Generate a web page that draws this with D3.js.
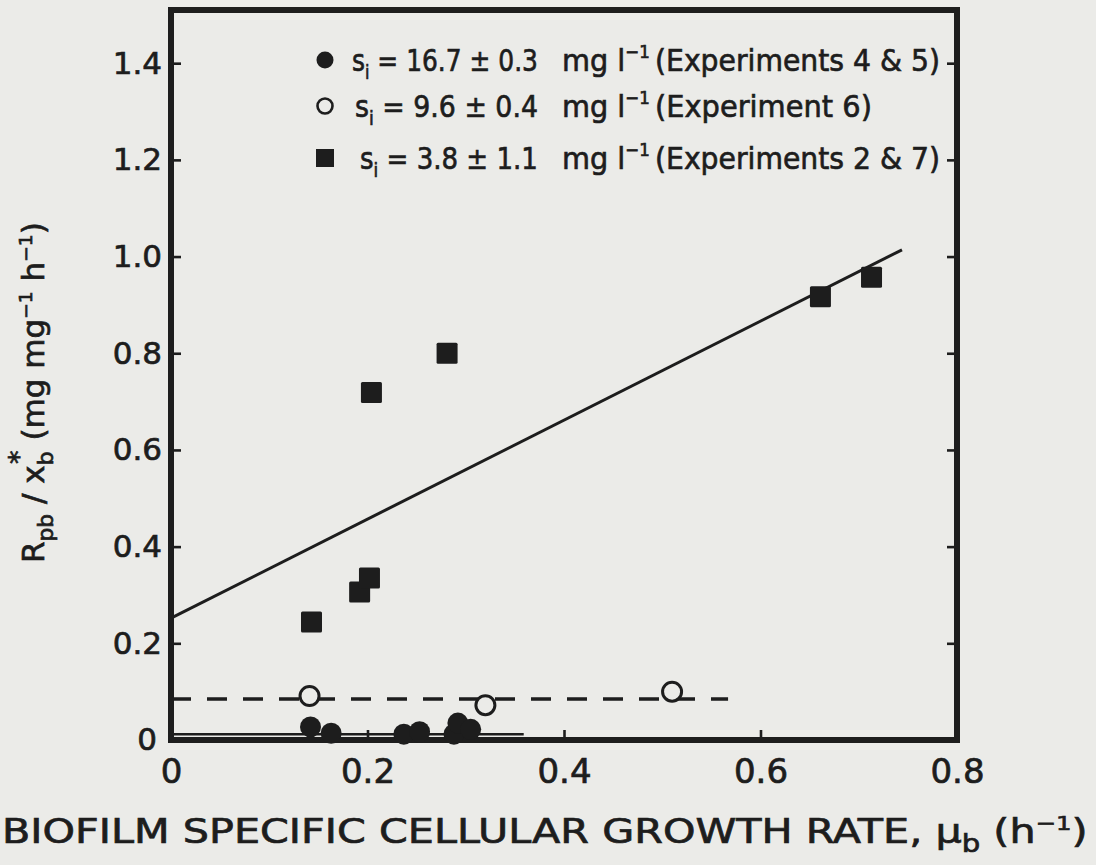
<!DOCTYPE html>
<html>
<head>
<meta charset="utf-8">
<script src="https://cdnjs.cloudflare.com/ajax/libs/d3/7.8.5/d3.min.js"></script>
<style>
    html, body { margin: 0; padding: 0; background: #ebebe8; }
    svg { display: block; }
    text {
        font-family: "DejaVu Sans", sans-serif;
        fill: #1d1d1d;
        stroke: #1d1d1d;
        stroke-width: 0.7px;
    }
</style>
</head>
<body>
<div id="chart"></div>
<script>
/* -------------------------------------------------------
   DATOS
------------------------------------------------------- */

const xTicks = [0, 0.2, 0.4, 0.6, 0.8];
const xTickLabels = ["0", "0.2", "0.4", "0.6", "0.8"];
const yTicks = [0, 0.2, 0.4, 0.6, 0.8, 1.0, 1.2, 1.4];
const yTickLabels = ["0", "0.2", "0.4", "0.6", "0.8", "1.0", "1.2", "1.4"];

// s_i = 16.7 (Experiments 4 & 5) - filled circles
const highMu = [0.142, 0.163, 0.237, 0.253, 0.288, 0.292, 0.305];
const highR  = [0.027, 0.014, 0.012, 0.017, 0.012, 0.035, 0.022];

// s_i = 9.6 (Experiment 6) - open circles
const midMu = [0.141, 0.320, 0.510];
const midR  = [0.091, 0.072, 0.100];

// s_i = 3.8 (Experiments 2 & 7) - filled squares
const lowMu = [0.143, 0.192, 0.202, 0.204, 0.281, 0.661, 0.713];
const lowR  = [0.244, 0.306, 0.335, 0.719, 0.800, 0.917, 0.957];

// fitted lines: [mu, R] end points
const fitLow  = [[0, 0.252], [0.744, 1.014]];
const fitMid  = [[0, 0.085], [0.567, 0.085]];
const fitHigh = [[0, 0.012], [0.359, 0.012]];

const legendConc = ["16.7", "9.6", "3.8"];
const legendErr  = ["0.3", "0.4", "1.1"];
const legendExp  = ["(Experiments 4 & 5)", "(Experiment 6)", "(Experiments 2 & 7)"];
const legendSym  = ["filled", "open", "square"];

/* -------------------------------------------------------
   LIENZO
------------------------------------------------------- */

const W = 1096, H = 865;
const ink = "#1d1d1d";
const paper = "#ebebe8";
const plot = { left: 171, right: 957, top: 10, bottom: 740 };

const svg = d3.select("#chart")
    .append("svg")
    .attr("width", W)
    .attr("height", H)
    .style("background", paper);

const x = d3.scaleLinear().domain([0, 0.8]).range([plot.left, plot.right]);
const y = d3.scaleLinear().domain([0, 1.51]).range([plot.bottom, plot.top]);

// encoge un texto en horizontal hasta el ancho dado (en su propio eje x)
function fitText(sel, tx, ty, width, rotate) {
    const w = sel.node().getBBox().width;
    const k = Math.min(1.3, width / w);
    sel.attr("transform", `translate(${tx},${ty})${rotate ? " rotate(" + rotate + ")" : ""} scale(${k},1)`);
}

/* --------------------------
   EJES
--------------------------- */
const axLeft = svg.append("g")
    .attr("transform", `translate(${plot.left},0)`)
    .call(d3.axisLeft(y).tickValues(yTicks).tickSize(-10).tickSizeOuter(0).tickPadding(9)
        .tickFormat((d, i) => yTickLabels[i]));

const axBottom = svg.append("g")
    .attr("transform", `translate(0,${plot.bottom})`)
    .call(d3.axisBottom(x).tickValues(xTicks).tickSize(-10).tickSizeOuter(0).tickPadding(19)
        .tickFormat((d, i) => xTickLabels[i]));

const axRight = svg.append("g")
    .attr("transform", `translate(${plot.right},0)`)
    .call(d3.axisRight(y).tickValues(yTicks.slice(1)).tickSize(-10).tickSizeOuter(0).tickFormat(""));

[axLeft, axBottom, axRight].forEach(a => {
    a.style("color", ink);
    a.select(".domain").remove();
    a.selectAll(".tick line").attr("stroke-width", 2.6);
    a.selectAll("text").attr("font-family", "DejaVu Sans, sans-serif").attr("fill", ink);
});
axLeft.selectAll("text").attr("font-size", 31);
axBottom.selectAll("text").attr("font-size", 34);
axBottom.selectAll(".tick").filter(d => d === 0 || d === 0.8).select("line").remove();
axLeft.selectAll(".tick").filter(d => d === 0).select("line").remove();
axLeft.selectAll(".tick").filter(d => d === 0).select("text").attr("x", -14);

// marco
svg.append("rect")
    .attr("x", plot.left)
    .attr("y", plot.top)
    .attr("width", plot.right - plot.left)
    .attr("height", plot.bottom - plot.top)
    .attr("fill", "none")
    .attr("stroke", ink)
    .attr("stroke-width", 6);

/* --------------------------
   LÍNEAS AJUSTADAS
--------------------------- */
const line = d3.line().x(d => x(d[0])).y(d => y(d[1]));

svg.append("path").datum(fitLow)
    .attr("d", line).attr("fill", "none").attr("stroke", ink).attr("stroke-width", 3);

svg.append("path").datum(fitMid)
    .attr("d", line).attr("fill", "none").attr("stroke", ink).attr("stroke-width", 3.5)
    .attr("stroke-dasharray", "20 16");

svg.append("path").datum(fitHigh)
    .attr("d", line).attr("fill", "none").attr("stroke", ink).attr("stroke-width", 2.6);

/* --------------------------
   PUNTOS
--------------------------- */
svg.append("g").selectAll("circle")
    .data(highMu.map((m, i) => [m, highR[i]]))
    .enter().append("circle")
    .attr("cx", d => x(d[0])).attr("cy", d => y(d[1]))
    .attr("r", 10.5).attr("fill", ink);

svg.append("g").selectAll("circle")
    .data(midMu.map((m, i) => [m, midR[i]]))
    .enter().append("circle")
    .attr("cx", d => x(d[0])).attr("cy", d => y(d[1]))
    .attr("r", 9.5).attr("fill", paper).attr("stroke", ink).attr("stroke-width", 3);

const sq = 21;
svg.append("g").selectAll("rect")
    .data(lowMu.map((m, i) => [m, lowR[i]]))
    .enter().append("rect")
    .attr("x", d => x(d[0]) - sq / 2).attr("y", d => y(d[1]) - sq / 2)
    .attr("width", sq).attr("height", sq).attr("rx", 1.5)
    .attr("fill", ink);

/* --------------------------
   LEYENDA
--------------------------- */
const legRowY = [60, 106, 158];
const legSX = [352, 355, 360];
const legMid = 325;

legendSym.forEach((s, i) => {
    const cy = legRowY[i];
    if (s === "filled") {
        svg.append("circle").attr("cx", legMid).attr("cy", cy).attr("r", 8.5).attr("fill", ink);
    } else if (s === "open") {
        svg.append("circle").attr("cx", legMid).attr("cy", cy).attr("r", 7.5)
            .attr("fill", "none").attr("stroke", ink).attr("stroke-width", 2.6);
    } else {
        svg.append("rect").attr("x", legMid - 9).attr("y", cy - 9).attr("width", 18).attr("height", 18)
            .attr("fill", ink);
    }

    const base = cy + 11;

    // s_i = valor ± error
    const t1 = svg.append("text").attr("font-size", 31);
    t1.append("tspan").text("s");
    t1.append("tspan").attr("dy", 8).attr("font-size", 20).text("i");
    t1.append("tspan").attr("dy", -8).text(` = ${legendConc[i]} ± ${legendErr[i]}`);
    fitText(t1, legSX[i], base, 538 - legSX[i]);

    // mg l^-1
    const t2 = svg.append("text").attr("font-size", 31);
    t2.append("tspan").text("mg l");
    t2.append("tspan").attr("dy", -13).attr("font-size", 18).text("−1");
    fitText(t2, 562, base, 88);

    // experimentos
    const t3 = svg.append("text").attr("font-size", 31).text(legendExp[i]);
    fitText(t3, 655, base, i === 1 ? 217 : 285);
});

/* --------------------------
   TÍTULOS DE EJES
--------------------------- */
const yLab = svg.append("text").attr("font-size", 30);
yLab.append("tspan").text("R");
yLab.append("tspan").attr("dy", 9).attr("font-size", 21).text("pb");
yLab.append("tspan").attr("dy", -9).text(" / x");
yLab.append("tspan").attr("dy", 9).attr("font-size", 21).text("b");
yLab.append("tspan").attr("dx", -12).attr("dy", -25).attr("font-size", 26).text("*");
yLab.append("tspan").attr("dy", 16).text("   (mg mg");
yLab.append("tspan").attr("dy", -12).attr("font-size", 18).text("−1");
yLab.append("tspan").attr("dy", 12).text(" h");
yLab.append("tspan").attr("dy", -12).attr("font-size", 18).text("−1");
yLab.append("tspan").attr("dy", 12).text(")");
fitText(yLab, 44, 563, 341, -90);

const xLab = svg.append("text").attr("font-size", 34);
xLab.append("tspan").text("BIOFILM  SPECIFIC  CELLULAR  GROWTH  RATE,  μ");
xLab.append("tspan").attr("dy", 9).attr("font-size", 24).text("b");
xLab.append("tspan").attr("dy", -9).text("  (h");
xLab.append("tspan").attr("dy", -13).attr("font-size", 20).text("−1");
xLab.append("tspan").attr("dy", 13).text(")");
fitText(xLab, 2, 843, 1086);
</script>
</body>
</html>
